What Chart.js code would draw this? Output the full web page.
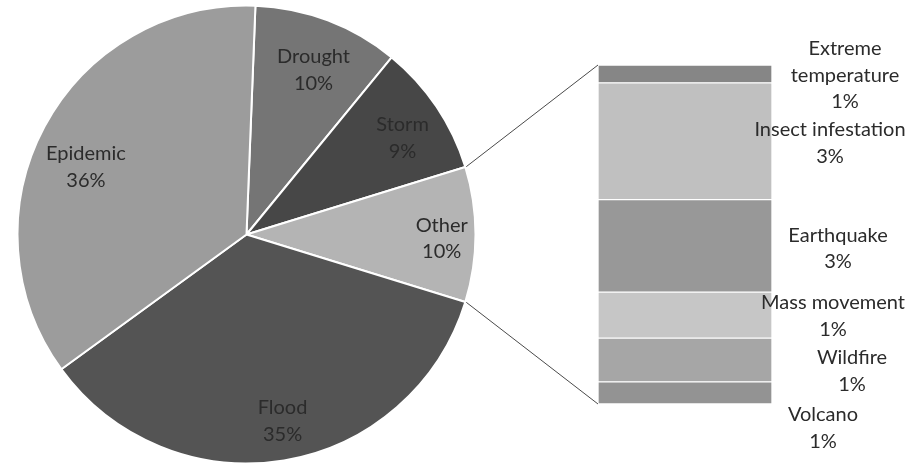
<!DOCTYPE html>
<html>
<head>
<meta charset="utf-8">
<title>Disasters by type</title>
<script src="https://cdn.jsdelivr.net/npm/chart.js@4"></script>
<style>
  body { margin: 0; background: #fff; }
  #wrap { position: relative; width: 913px; height: 468px; }
  #wrap canvas { position: absolute; left: 0; top: 0; }
</style>
</head>
<body>
<div id="wrap">
  <canvas id="pie-chart" width="913" height="468"></canvas>
  <canvas id="bar-chart" width="913" height="468"></canvas>
</div>
<script>
'use strict';

// *************** DATA
let pieNames = ['Drought', 'Storm', 'Other', 'Flood', 'Epidemic'];
let pieValues = [10.3, 9.3, null, 35.2, 35.6]; // Other is filled from the bar
let pieColors = ['#757575', '#474747', '#b4b4b4', '#545454', '#9c9c9c'];
// label nudges (px) on top of the default spot
let pieLabelDx = [2, 4, 12, 6, 1];
let pieLabelDy = [7, 5.5, 4, 6, 19];

// bottom to top of the stacked bar
let otherNames = ['Volcano', 'Wildfire', 'Mass movement', 'Earthquake', 'Insect infestation', 'Extreme temperature'];
let otherValues = [0.62, 1.23, 1.29, 2.6, 3.28, 0.5];
let otherColors = ['#939393', '#a6a6a6', '#c6c6c6', '#989898', '#c0c0c0', '#868686'];
// label nudges, the way they were dragged in the original
let otherLabelDx = [51, 80, 61, 66, 58, 73];
let otherLabelDy = [35, 11, 1, 2.5, 2, 1.5];

let otherIndex = pieNames.indexOf('Other');
let otherTotal = otherValues.reduce((a, b) => a + b, 0);
pieValues[otherIndex] = otherTotal;
let grandTotal = pieValues.reduce((a, b) => a + b, 0);

// Other slice sits centred on 3 o'clock
let beforeOther = 0;
for (let i = 0; i < otherIndex; i++) {
  beforeOther += pieValues[i];
}
let pieRotation = 90 - (beforeOther + otherTotal / 2) / grandTotal * 360;

let labelFont = '20px Lato';
let labelColor = '#2b2b2b';
let lineHeight = 26.5;

function pct(v) {
  return Math.round(v / grandTotal * 100) + '%';
}

function wrapText(ctx, text, maxWidth) {
  if (ctx.measureText(text).width <= maxWidth) return [text];
  return text.split(' ');
}

function drawLines(ctx, lines, x, y) {
  let top = y - (lines.length - 1) * lineHeight / 2;
  for (let i = 0; i < lines.length; i++) {
    ctx.fillText(lines[i], x, top + i * lineHeight);
  }
}

// *************** PIE
let pieLabels = {
  id: 'pieLabels',
  afterDatasetsDraw(chart) {
    let ctx = chart.ctx;
    let arcs = chart.getDatasetMeta(0).data;
    ctx.save();
    ctx.font = labelFont;
    ctx.fillStyle = labelColor;
    ctx.textAlign = 'center';
    ctx.textBaseline = 'middle';
    arcs.forEach((arc, i) => {
      let mid = (arc.startAngle + arc.endAngle) / 2;
      let r = arc.outerRadius * 0.8;
      let x = arc.x + Math.cos(mid) * r + pieLabelDx[i];
      let y = arc.y + Math.sin(mid) * r + pieLabelDy[i];
      drawLines(ctx, [pieNames[i], pct(pieValues[i])], x, y);
    });
    ctx.restore();
  }
};

let pieChart = new Chart(document.getElementById('pie-chart'), {
  type: 'pie',
  data: {
    labels: pieNames,
    datasets: [{
      data: pieValues,
      backgroundColor: pieColors,
      borderColor: '#ffffff',
      borderWidth: 2
    }]
  },
  options: {
    responsive: false,
    animation: false,
    rotation: pieRotation,
    radius: 229,
    layout: { padding: { left: 16.5, right: 436.5, top: 4.5, bottom: 3.5 } },
    plugins: { legend: { display: false }, tooltip: { enabled: false } }
  },
  plugins: [pieLabels]
});

// *************** BAR OF PIE
let barExtras = {
  id: 'barExtras',
  afterDatasetsDraw(chart) {
    let ctx = chart.ctx;
    let metas = otherValues.map((v, i) => chart.getDatasetMeta(i).data[0]);
    let topBar = metas[metas.length - 1];
    let bottomBar = metas[0];
    let left = topBar.x - topBar.width / 2;
    let right = topBar.x + topBar.width / 2;

    // connector lines from the Other slice to the bar
    let arc = pieChart.getDatasetMeta(0).data[otherIndex];
    let r = arc.outerRadius + 1;
    ctx.save();
    ctx.strokeStyle = '#4a4a4a';
    ctx.lineWidth = 1;
    ctx.beginPath();
    ctx.moveTo(arc.x + Math.cos(arc.startAngle) * r, arc.y + Math.sin(arc.startAngle) * r);
    ctx.lineTo(left, topBar.y);
    ctx.moveTo(arc.x + Math.cos(arc.endAngle) * r, arc.y + Math.sin(arc.endAngle) * r);
    ctx.lineTo(left, bottomBar.base);
    ctx.stroke();

    // data labels
    ctx.font = labelFont;
    ctx.fillStyle = labelColor;
    ctx.textAlign = 'center';
    ctx.textBaseline = 'middle';
    metas.forEach((bar, i) => {
      let cy = (bar.y + bar.base) / 2 + otherLabelDy[i];
      let lines = wrapText(ctx, otherNames[i], 165).concat([pct(otherValues[i])]);
      drawLines(ctx, lines, right + otherLabelDx[i], cy);
    });
    ctx.restore();
  }
};

let barDatasets = [];
for (let i = 0; i < otherValues.length; i++) {
  barDatasets.push({
    label: otherNames[i],
    data: [otherValues[i]],
    backgroundColor: otherColors[i],
    borderColor: '#ffffff',
    borderWidth: 1,
    borderSkipped: false,
    barPercentage: 1,
    categoryPercentage: 1
  });
}

new Chart(document.getElementById('bar-chart'), {
  type: 'bar',
  data: {
    labels: ['Other'],
    datasets: barDatasets
  },
  options: {
    responsive: false,
    animation: false,
    layout: { padding: { left: 598, right: 141, top: 65, bottom: 64 } },
    scales: {
      x: { stacked: true, display: false },
      y: { stacked: true, display: false, min: 0, max: otherTotal }
    },
    plugins: { legend: { display: false }, tooltip: { enabled: false } }
  },
  plugins: [barExtras]
});
</script>
</body>
</html>
